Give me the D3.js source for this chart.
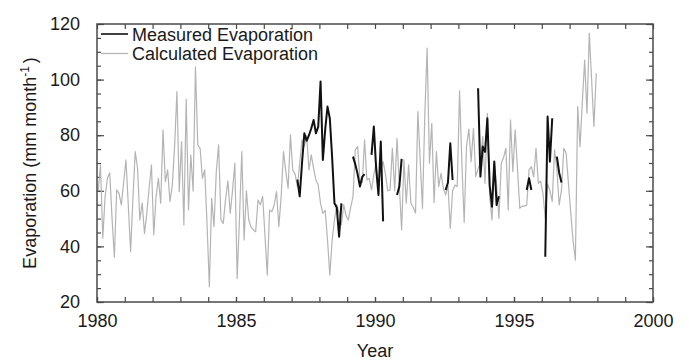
<!DOCTYPE html>
<html>
<head>
<meta charset="utf-8">
<script src="https://cdn.jsdelivr.net/npm/d3@7/dist/d3.min.js"></script>
<style>
  html, body { margin: 0; padding: 0; background: #fff; }
  svg { display: block; }
  text { font-family: "Liberation Sans", Arial, sans-serif; fill: #1a1a1a; }
</style>
</head>
<body>
<svg id="chart" width="689" height="361"></svg>
<script>
// Monthly calculated evaporation (mm/month), January 1980 – December 1997
const firstYear = 1980;
const calculated = [
  60, 69.3, 42.9, 58, 64.5, 66.5, 50, 36.1, 60.3, 59.1, 54.9, 63,          // 1980
  71.1, 55, 38.1, 57, 74.1, 68.1, 49.5, 55.7, 44.7, 51.9, 61, 69.3,        // 1981
  44.1, 57.9, 64.5, 55.5, 81.9, 63.3, 67.5, 56.1, 62, 76, 95.7, 59.7,      // 1982
  77.7, 47.7, 92.9, 53.1, 72.9, 59.9, 104.6, 76.5, 75.3, 64.5, 67.5, 48,   // 1983
  25.5, 57.3, 47.1, 66.9, 76.5, 49.5, 48.3, 57, 63.5, 51.9, 60, 69.9,      // 1984
  28.5, 50, 74.1, 42.3, 60, 49.5, 47, 46, 45.3, 56.7, 55, 58,              // 1985
  44, 29.7, 53.1, 52.5, 55, 59.7, 47.1, 58, 74.1, 67, 60.9, 80.1,          // 1986
  67.5, 66, 61.5, 70, 78.3, 76, 79.9, 67.5, 72.9, 68, 63.9, 62,            // 1987
  55.5, 51.9, 53, 42.3, 29.7, 42.3, 49.5, 55, 52, 47.7, 55, 51,            // 1988
  49.5, 54, 57.9, 74.7, 75.9, 64, 63, 78.3, 63.9, 64.5, 60.3, 66,          // 1989
  70, 62, 68, 70.5, 66, 60, 60.3, 75.3, 60, 78.9, 62, 45.9,                // 1990
  71.1, 55.5, 69.3, 55.5, 54, 52, 88.5, 71.1, 53.7, 87.3, 111.3, 69.9,     // 1991
  84.3, 55.8, 74.1, 61.5, 66.3, 61, 58.5, 62, 46.5, 60, 62.1, 61.5,        // 1992
  96, 70, 48.6, 75.9, 82.2, 70.5, 82.5, 65.1, 68, 70, 79.5, 62.7,          // 1993
  87.9, 58, 49.5, 70, 62, 50.1, 69.9, 72, 75.3, 53.1, 85.5, 66.9,          // 1994
  81.9, 68, 53.7, 54.5, 54.5, 54.9, 67.5, 68.7, 65, 75.3, 62.7, 63.5,      // 1995
  59.1, 50, 62.5, 60, 56.1, 74.7, 68, 54.9, 60.3, 75.3, 73.5, 62.7,        // 1996
  52, 42, 35.1, 90.3, 75.9, 92, 107, 87.9, 116.7, 100, 83.1, 102.3         // 1997
];

// Measured evaporation runs: first month of each run (months since Jan 1980) and its values
const measuredStart = [86, 110, 118, 129, 150, 164, 185, 193, 198];
const measuredValues = [
  [64, 58, 70, 80.7, 78, 80, 82.5, 85.5, 80.7, 83, 99.3, 71.1, 82, 90.3, 86, 72, 55.5, 54, 43.5, 55.5],
  [72.3, 69.5, 66, 61.5, 65, 66],
  [72.9, 83.1, 68, 58.5, 77.7, 49],
  [58.5, 61.5, 71.5],
  [60.3, 63, 77.1, 63.9],
  [96.9, 65.1, 75.9, 74, 86.1, 62, 54.3, 70.5, 54.9, 58],
  [60.3, 64.5, 60.3],
  [36.3, 86.7, 70.5, 86.1],
  [72.3, 66.5, 63]
];

const yearLabels = [1980, 1985, 1990, 1995, 2000];
const yearMinor = d3.range(1980, 2001);
const valueLabels = [20, 40, 60, 80, 100, 120];
const valueMinor = d3.range(20, 121, 5);

const legendNames = ["Measured Evaporation", "Calculated Evaporation"];
const seriesColors = ["#111111", "#b4b4b4"];
const seriesWidths = [2, 1.2];

const margin = { top: 24, right: 36, bottom: 59, left: 97 };
const W = 689, H = 361;
const iw = W - margin.left - margin.right;
const ih = H - margin.top - margin.bottom;

const svg = d3.select("#chart");
const g = svg.append("g").attr("transform", `translate(${margin.left},${margin.top})`);

const x = d3.scaleLinear().domain([1980, 2000]).range([0, iw]);
const y = d3.scaleLinear().domain([20, 120]).range([ih, 0]);

const monthX = m => x(firstYear + (m + 0.5) / 12);

const axisColor = "#4a4a4a";
function styleAxis(sel) {
  sel.select(".domain").remove();
  sel.selectAll(".tick line").attr("stroke", axisColor).attr("stroke-width", 1.2);
  sel.selectAll(".tick text").attr("font-size", 18).attr("fill", "#1a1a1a");
}

// Bottom axis: yearly ticks pointing inward, labels every five years
g.append("g").attr("transform", `translate(0,${ih})`)
  .call(d3.axisBottom(x).tickValues(yearMinor).tickSize(-5).tickFormat(""))
  .call(styleAxis);
g.append("g").attr("transform", `translate(0,${ih})`)
  .call(d3.axisBottom(x).tickValues(yearLabels).tickSize(-5).tickPadding(12).tickFormat(d3.format("d")))
  .call(styleAxis);
// Top mirror ticks
g.append("g")
  .call(d3.axisTop(x).tickValues(yearMinor).tickSize(-5).tickFormat(""))
  .call(styleAxis);

// Left axis: minor ticks every 5, labelled ticks every 20
g.append("g")
  .call(d3.axisLeft(y).tickValues(valueMinor).tickSize(-4).tickFormat(""))
  .call(styleAxis);
g.append("g")
  .call(d3.axisLeft(y).tickValues(valueLabels).tickSize(-7).tickPadding(17).tickFormat(d3.format("d")))
  .call(styleAxis);
// Right mirror ticks
g.append("g").attr("transform", `translate(${iw},0)`)
  .call(d3.axisRight(y).tickValues(valueMinor).tickSize(-4).tickFormat(""))
  .call(styleAxis);
g.append("g").attr("transform", `translate(${iw},0)`)
  .call(d3.axisRight(y).tickValues(valueLabels).tickSize(-7).tickFormat(""))
  .call(styleAxis);

// Calculated series
const line = d3.line().x(d => monthX(d.m)).y(d => y(d.v));
g.append("path")
  .datum(calculated.map((v, m) => ({ m, v })))
  .attr("fill", "none")
  .attr("stroke", seriesColors[1])
  .attr("stroke-width", seriesWidths[1])
  .attr("stroke-linejoin", "round")
  .attr("d", line);

// Measured series, one path per continuous run
g.selectAll("path.measured")
  .data(measuredValues.map((vals, k) => vals.map((v, j) => ({ m: measuredStart[k] + j, v }))))
  .join("path")
  .attr("class", "measured")
  .attr("fill", "none")
  .attr("stroke", seriesColors[0])
  .attr("stroke-width", seriesWidths[0])
  .attr("stroke-linejoin", "round")
  .attr("d", line);

// Plot frame
g.append("rect")
  .attr("x", 0).attr("y", 0).attr("width", iw).attr("height", ih)
  .attr("fill", "none").attr("stroke", axisColor).attr("stroke-width", 1.5);

// Legend
const legend = g.append("g").attr("transform", "translate(4,10)");
legendNames.forEach((name, i) => {
  const row = legend.append("g").attr("transform", `translate(0,${i * 19.5})`);
  row.append("line").attr("x1", 0).attr("x2", 27).attr("y1", 0).attr("y2", 0)
    .attr("stroke", seriesColors[i]).attr("stroke-width", i === 0 ? 1.6 : 1.3);
  row.append("text").attr("x", 31).attr("y", 6.5).attr("font-size", 18).text(name);
});

// Axis titles
svg.append("text")
  .attr("x", margin.left + iw / 2).attr("y", 357)
  .attr("text-anchor", "middle").attr("font-size", 18)
  .text("Year");

const yt = svg.append("text")
  .attr("transform", `translate(36,${margin.top + ih / 2}) rotate(-90)`)
  .attr("text-anchor", "middle").attr("font-size", 18);
yt.append("tspan").text("Evaporation (mm month");
yt.append("tspan").attr("font-size", 12).attr("dy", -7).text("-1");
yt.append("tspan").attr("dy", 7).attr("dx", 3).text(")");
</script>
</body>
</html>
